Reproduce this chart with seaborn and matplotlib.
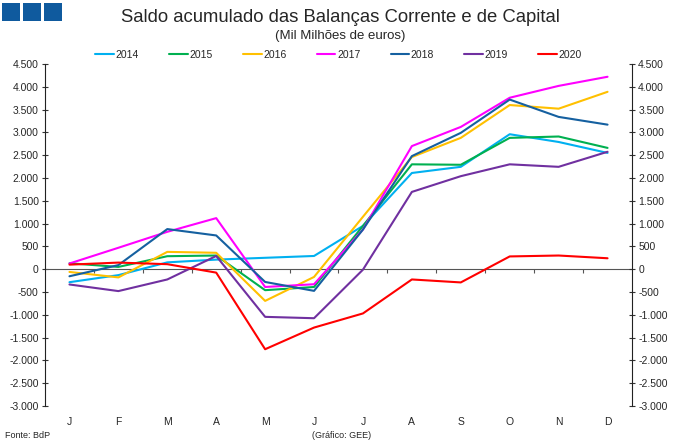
import pandas as pd
import matplotlib.pyplot as plt
import seaborn as sns
import numpy as np
from matplotlib.patches import Rectangle
from matplotlib.ticker import FuncFormatter

# dados (milhoes de euros)
meses = ['J', 'F', 'M', 'A', 'M', 'J', 'J', 'A', 'S', 'O', 'N', 'D']
anos = ['2014', '2015', '2016', '2017', '2018', '2019', '2020']

v2014 = [-285, -130, 150, 210, 250, 290, 950, 2110, 2245, 2960, 2790, 2550]
v2015 = [130, 50, 285, 300, -460, -390, 950, 2300, 2290, 2880, 2910, 2660]
v2016 = [-60, -180, 380, 360, -695, -170, 1150, 2460, 2880, 3600, 3520, 3890]
v2017 = [125, 470, 820, 1120, -390, -330, 870, 2700, 3120, 3760, 4020, 4220]
v2018 = [-155, 90, 880, 740, -280, -475, 870, 2480, 2990, 3720, 3340, 3170]
v2019 = [-335, -480, -225, 290, -1045, -1075, -10, 1695, 2040, 2300, 2245, 2575]
v2020 = [100, 145, 110, -75, -1755, -1280, -970, -225, -290, 280, 300, 240]

cores = {'2014': '#00B0F0', '2015': '#00B050', '2016': '#FFC000',
         '2017': '#FF00FF', '2018': '#1560A0', '2019': '#7030A0',
         '2020': '#FF0000'}

yticks = np.arange(-3000, 4501, 500)

series = [v2014, v2015, v2016, v2017, v2018, v2019, v2020]
df = pd.DataFrame({
    'mes': np.tile(np.arange(len(meses)), len(anos)),
    'ano': np.repeat(anos, len(meses)),
    'valor': np.concatenate(series),
})

sns.set_style('white')
plt.rcParams['font.family'] = ['Liberation Sans', 'DejaVu Sans']

fig = plt.figure(figsize=(6.8, 4.47), dpi=100)
ax = fig.add_axes([45 / 680, 1 - 406 / 447, 587 / 680, 342 / 447])

sns.lineplot(data=df, x='mes', y='valor', hue='ano', palette=cores,
             hue_order=anos, linewidth=1.5, ax=ax, legend=False)

ax.set_xlim(-0.5, len(meses) - 0.5)
ax.set_ylim(-3000, 4500)
ax.set_xlabel('')
ax.set_ylabel('')

fmt = FuncFormatter(lambda v, p: f'{int(v):,}'.replace(',', '.'))
ax.set_yticks(yticks)
ax.yaxis.set_major_formatter(fmt)
ax.set_xticks(np.arange(len(meses)))
ax.set_xticklabels(meses)
ax.tick_params(axis='x', length=0, labelsize=7.5, pad=8)
ax.tick_params(axis='y', labelsize=7.5, direction='inout', length=5,
               width=0.8, color='#333333', pad=2)

for s in ['top', 'right', 'bottom']:
    ax.spines[s].set_visible(False)
ax.spines['left'].set_color('#222222')
ax.spines['left'].set_linewidth(0.8)

# linha do zero com marcas entre os meses
ax.axhline(0, color='#555555', linewidth=0.8, zorder=1)
ax.vlines(np.arange(0.5, len(meses) - 0.5, 1), -90, 0,
          color='#555555', linewidth=0.8, zorder=1)

ax2 = ax.twinx()
ax2.set_ylim(ax.get_ylim())
ax2.set_yticks(yticks)
ax2.yaxis.set_major_formatter(fmt)
ax2.tick_params(axis='y', labelsize=7.5, direction='inout', length=5,
                width=0.8, color='#333333', pad=2)
for s in ['top', 'left', 'bottom']:
    ax2.spines[s].set_visible(False)
ax2.spines['right'].set_color('#222222')
ax2.spines['right'].set_linewidth(0.8)

# legenda
handles = [plt.Line2D([], [], color=cores[a], linewidth=1.5) for a in anos]
fig.legend(handles, anos, loc='center', bbox_to_anchor=(0.498, 1 - 55 / 447),
           ncol=7, frameon=False, fontsize=7.5, handlelength=1.8,
           handletextpad=0.15, columnspacing=2.9)

# titulo
fig.text(0.5, 1 - 18 / 447, 'Saldo acumulado das Balanças Corrente e de Capital',
         ha='center', va='center', fontsize=13.3)
fig.text(0.5, 1 - 36 / 447, '(Mil Milhões de euros)',
         ha='center', va='center', fontsize=9.5)

# quadrados azuis
for x0 in [2, 23, 44]:
    fig.patches.append(Rectangle((x0 / 680, 1 - 21 / 447), 18 / 680, 18 / 447,
                                 transform=fig.transFigure,
                                 facecolor='#0F5A9E', edgecolor='none'))

fig.text(5 / 680, 1 - 436 / 447, 'Fonte: BdP', ha='left', va='center',
         fontsize=6.5)
fig.text(312 / 680, 1 - 436 / 447, '(Gráfico: GEE)', ha='left', va='center',
         fontsize=6.5)

fig.savefig('out.png', dpi=100)
